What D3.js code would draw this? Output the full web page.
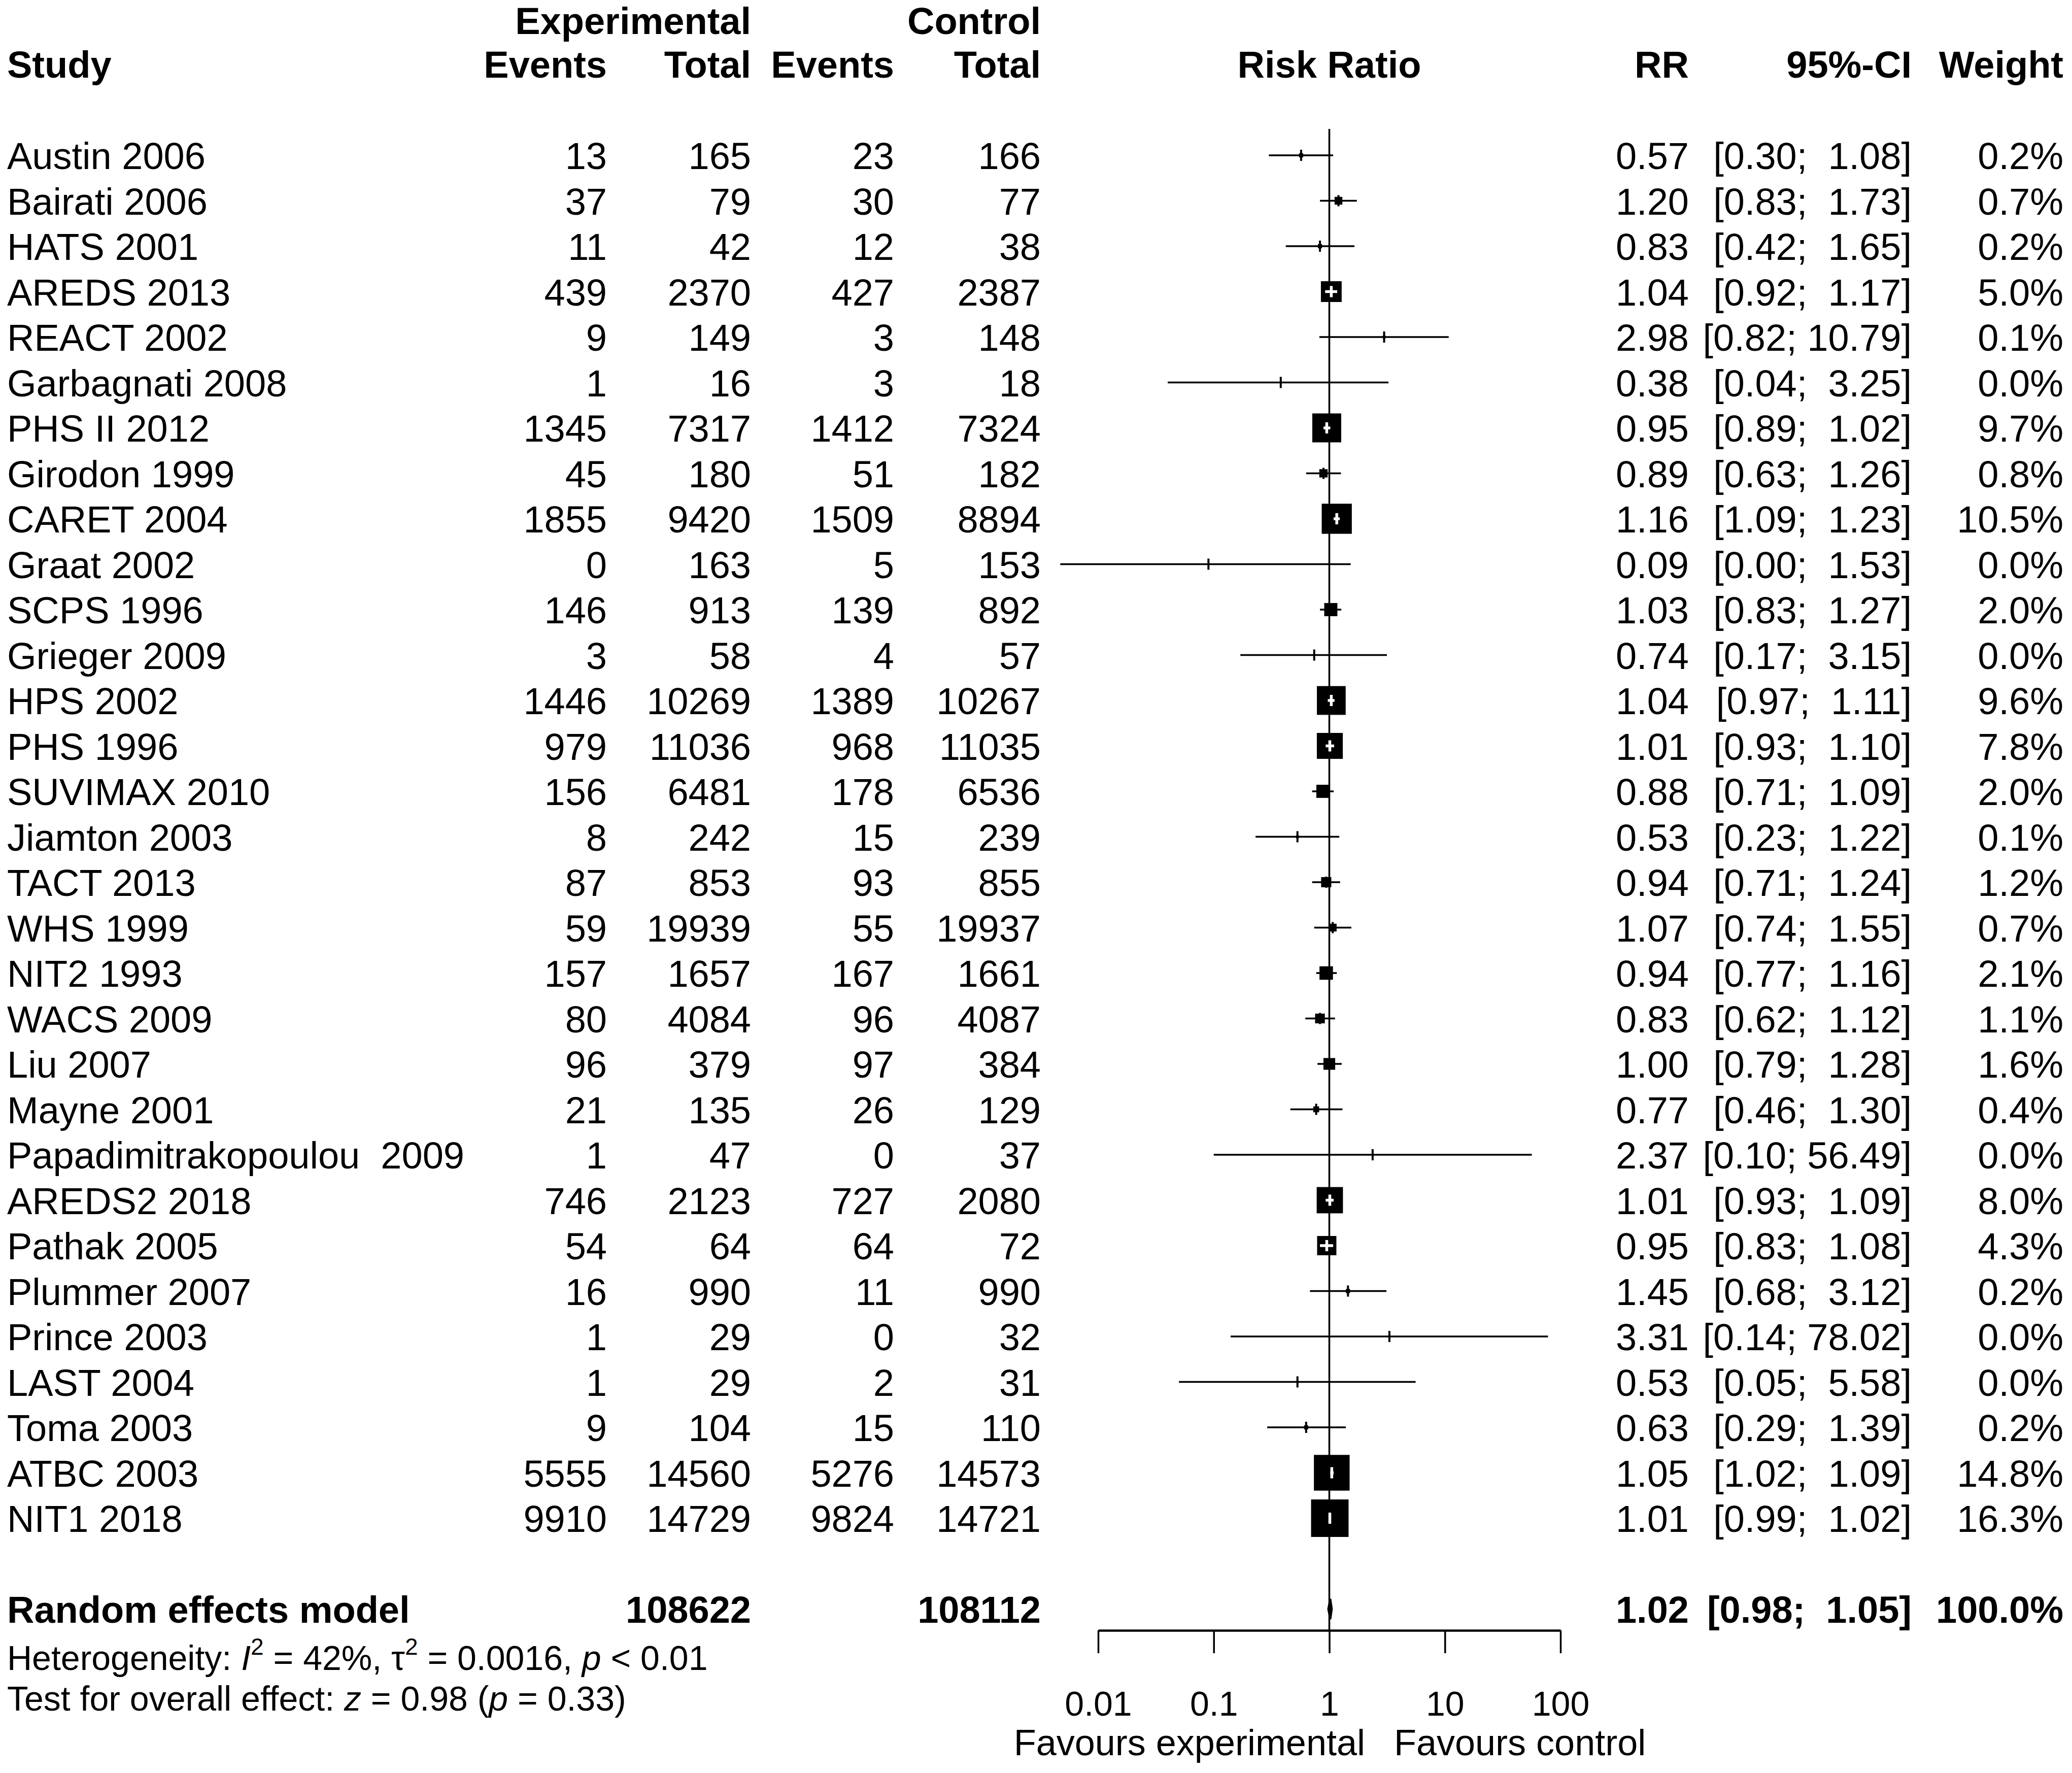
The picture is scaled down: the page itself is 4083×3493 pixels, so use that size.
<!DOCTYPE html>
<html>
<head>
<meta charset="utf-8">
<script src="https://cdn.jsdelivr.net/npm/d3@7"></script>
<style>
  html, body { margin: 0; padding: 0; background: #fff; }
  svg text { font-family: "Liberation Sans", Arial, Helvetica, sans-serif; white-space: pre; fill: #000; }
</style>
</head>
<body>
<svg id="chart" width="4083" height="3493" xmlns="http://www.w3.org/2000/svg" xml:space="preserve"></svg>
<script>
// ---------------- DATA ----------------
const studies = ["Austin 2006", "Bairati 2006", "HATS 2001", "AREDS 2013", "REACT 2002", "Garbagnati 2008",
  "PHS II 2012", "Girodon 1999", "CARET 2004", "Graat 2002", "SCPS 1996", "Grieger 2009", "HPS 2002",
  "PHS 1996", "SUVIMAX 2010", "Jiamton 2003", "TACT 2013", "WHS 1999", "NIT2 1993", "WACS 2009",
  "Liu 2007", "Mayne 2001", "Papadimitrakopoulou  2009", "AREDS2 2018", "Pathak 2005", "Plummer 2007",
  "Prince 2003", "LAST 2004", "Toma 2003", "ATBC 2003", "NIT1 2018"];
const expEvents = [13, 37, 11, 439, 9, 1, 1345, 45, 1855, 0, 146, 3, 1446, 979, 156, 8, 87, 59, 157, 80, 96, 21, 1, 746, 54, 16, 1, 1, 9, 5555, 9910];
const expTotal = [165, 79, 42, 2370, 149, 16, 7317, 180, 9420, 163, 913, 58, 10269, 11036, 6481, 242, 853, 19939, 1657, 4084, 379, 135, 47, 2123, 64, 990, 29, 29, 104, 14560, 14729];
const ctrlEvents = [23, 30, 12, 427, 3, 3, 1412, 51, 1509, 5, 139, 4, 1389, 968, 178, 15, 93, 55, 167, 96, 97, 26, 0, 727, 64, 11, 0, 2, 15, 5276, 9824];
const ctrlTotal = [166, 77, 38, 2387, 148, 18, 7324, 182, 8894, 153, 892, 57, 10267, 11035, 6536, 239, 855, 19937, 1661, 4087, 384, 129, 37, 2080, 72, 990, 32, 31, 110, 14573, 14721];
const rr = [0.57, 1.20, 0.83, 1.04, 2.98, 0.38, 0.95, 0.89, 1.16, 0.09, 1.03, 0.74, 1.04, 1.01, 0.88, 0.53, 0.94, 1.07, 0.94, 0.83, 1.00, 0.77, 2.37, 1.01, 0.95, 1.45, 3.31, 0.53, 0.63, 1.05, 1.01];
const lower = [0.30, 0.83, 0.42, 0.92, 0.82, 0.04, 0.89, 0.63, 1.09, 0.0047, 0.83, 0.17, 0.97, 0.93, 0.71, 0.23, 0.71, 0.74, 0.77, 0.62, 0.79, 0.46, 0.10, 0.93, 0.83, 0.68, 0.14, 0.05, 0.29, 1.02, 0.99];
const upper = [1.08, 1.73, 1.65, 1.17, 10.79, 3.25, 1.02, 1.26, 1.23, 1.53, 1.27, 3.15, 1.11, 1.10, 1.09, 1.22, 1.24, 1.55, 1.16, 1.12, 1.28, 1.30, 56.49, 1.09, 1.08, 3.12, 78.02, 5.58, 1.39, 1.09, 1.02];
const weights = [0.2, 0.7, 0.2, 5.0, 0.1, 0.0, 9.7, 0.8, 10.5, 0.0, 2.0, 0.0, 9.6, 7.8, 2.0, 0.1, 1.2, 0.7, 2.1, 1.1, 1.6, 0.4, 0.0, 8.0, 4.3, 0.2, 0.0, 0.0, 0.2, 14.8, 16.3];

const pooledLabel = "Random effects model";
const pooledTotals = [108622, 108112];
const pooledEstimate = [1.02, 0.98, 1.05];   // RR, lower, upper
const pooledWeight = "100.0%";

const axisTicks = [0.01, 0.1, 1, 10, 100];
const axisTickLabels = ["0.01", "0.1", "1", "10", "100"];
const favourLabels = ["Favours experimental", "Favours control"];

// ---------------- LAYOUT ----------------
const svg = d3.select("#chart");
const FS = 74, FS_SMALL = 68;
const rowStep = 89.5;
const firstBaseline = 333;
const centerOffset = 27;

const x = d3.scaleLog().domain([0.01, 100]).range([2164, 3075]);
const yBase = d3.scalePoint().domain(studies).range([firstBaseline, firstBaseline + rowStep * (studies.length - 1)]);
const pooledBaseline = yBase(studies[studies.length - 1]) + 2 * rowStep;
const axisY = 3212;

const col = { study: 14, expEv: 1196, expTot: 1480, ctlEv: 1762, ctlTot: 2051, rr: 3328, ci: 3767, w: 4066 };

function txt(g, xx, yy, s, anchor, weight, size) {
  return g.append("text").attr("x", xx).attr("y", yy).attr("text-anchor", anchor || "start")
    .attr("font-size", size || FS).attr("font-weight", weight || "normal").text(s);
}
const fmtCI = (lo, up) => "[" + lo.toFixed(2) + "; " + up.toFixed(2).padStart(5, " ") + "]";

// ---------------- HEADER ----------------
const head = svg.append("g");
txt(head, col.expTot, 67, "Experimental", "end", "bold");
txt(head, col.ctlTot, 67, "Control", "end", "bold");
txt(head, col.study, 153, "Study", "start", "bold");
txt(head, col.expEv, 153, "Events", "end", "bold");
txt(head, col.expTot, 153, "Total", "end", "bold");
txt(head, col.ctlEv, 153, "Events", "end", "bold");
txt(head, col.ctlTot, 153, "Total", "end", "bold");
txt(head, x(1), 153, "Risk Ratio", "middle", "bold");
txt(head, col.rr, 153, "RR", "end", "bold");
txt(head, col.ci, 153, "95%-CI", "end", "bold");
txt(head, col.w, 153, "Weight", "end", "bold");

// ---------------- TABLE ROWS ----------------
const rows = svg.append("g");
studies.forEach((s, i) => {
  const yb = yBase(s);
  txt(rows, col.study, yb, s, "start");
  txt(rows, col.expEv, yb, String(expEvents[i]), "end");
  txt(rows, col.expTot, yb, String(expTotal[i]), "end");
  txt(rows, col.ctlEv, yb, String(ctrlEvents[i]), "end");
  txt(rows, col.ctlTot, yb, String(ctrlTotal[i]), "end");
  txt(rows, col.rr, yb, rr[i].toFixed(2), "end");
  txt(rows, col.ci, yb, fmtCI(lower[i], upper[i]), "end");
  txt(rows, col.w, yb, weights[i].toFixed(1) + "%", "end");
});

// pooled row
txt(rows, col.study, pooledBaseline, pooledLabel, "start", "bold");
txt(rows, col.expTot, pooledBaseline, String(pooledTotals[0]), "end", "bold");
txt(rows, col.ctlTot, pooledBaseline, String(pooledTotals[1]), "end", "bold");
txt(rows, col.rr, pooledBaseline, pooledEstimate[0].toFixed(2), "end", "bold");
txt(rows, col.ci, pooledBaseline, fmtCI(pooledEstimate[1], pooledEstimate[2]), "end", "bold");
txt(rows, col.w, pooledBaseline, pooledWeight, "end", "bold");

// heterogeneity & test lines
const het = svg.append("text").attr("x", col.study).attr("y", pooledBaseline + 93).attr("font-size", FS_SMALL);
het.append("tspan").text("Heterogeneity: ");
het.append("tspan").attr("font-style", "italic").text("I");
het.append("tspan").attr("font-size", 46).attr("dy", -30).text("2");
het.append("tspan").attr("dy", 30).text(" = 42%, τ");
het.append("tspan").attr("font-size", 46).attr("dy", -30).text("2");
het.append("tspan").attr("dy", 30).text(" = 0.0016, ");
het.append("tspan").attr("font-style", "italic").text("p");
het.append("tspan").text(" < 0.01");

const tst = svg.append("text").attr("x", col.study).attr("y", pooledBaseline + 173).attr("font-size", FS_SMALL);
tst.append("tspan").text("Test for overall effect: ");
tst.append("tspan").attr("font-style", "italic").text("z");
tst.append("tspan").text(" = 0.98 (");
tst.append("tspan").attr("font-style", "italic").text("p");
tst.append("tspan").text(" = 0.33)");

// ---------------- PLOT ----------------
const plot = svg.append("g");
const LW = 3.5;
const boxK = 18.3;
const tickH = 22;

// reference line at 1
plot.append("line")
  .attr("x1", x(1)).attr("x2", x(1))
  .attr("y1", yBase(studies[0]) - centerOffset - 52).attr("y2", axisY)
  .attr("stroke", "#000").attr("stroke-width", LW);

studies.forEach((s, i) => {
  const yc = yBase(s) - centerOffset;
  const xl = x(lower[i]), xu = x(upper[i]), xe = x(rr[i]);
  const side = boxK * Math.sqrt(weights[i]);
  // CI line
  plot.append("line").attr("x1", xl).attr("x2", xu).attr("y1", yc).attr("y2", yc)
    .attr("stroke", "#000").attr("stroke-width", LW);
  // box
  if (side > 0) {
    plot.append("rect").attr("x", xe - side / 2).attr("y", yc - side / 2)
      .attr("width", side).attr("height", side).attr("fill", "#000");
  }
  const inside = (xl > xe - side / 2) && (xu < xe + side / 2);
  const c = inside ? "#fff" : "#000";
  if (inside) {
    plot.append("line").attr("x1", xl).attr("x2", xu).attr("y1", yc).attr("y2", yc)
      .attr("stroke", c).attr("stroke-width", 5.5);
  }
  // estimate tick
  plot.append("line").attr("x1", xe).attr("x2", xe).attr("y1", yc - tickH / 2).attr("y2", yc + tickH / 2)
    .attr("stroke", c).attr("stroke-width", inside ? 5.5 : LW + 0.5);
});

// pooled diamond
{
  const yc = pooledBaseline - centerOffset;
  const hh = 20;
  const pts = [[x(pooledEstimate[1]), yc], [x(pooledEstimate[0]), yc - hh], [x(pooledEstimate[2]), yc], [x(pooledEstimate[0]), yc + hh]];
  plot.append("path").attr("d", d3.line()(pts) + "Z").attr("fill", "#000").attr("stroke", "#000").attr("stroke-width", 4);
}

// axis
const axis = d3.axisBottom(x).tickValues(axisTicks)
  .tickFormat((d, i) => axisTickLabels[i]).tickSize(45).tickSizeOuter(0).tickPadding(75);
const ag = svg.append("g").attr("transform", `translate(0,${axisY})`).call(axis);
ag.select(".domain").attr("stroke", "#000").attr("stroke-width", 4.5);
ag.selectAll(".tick line").attr("stroke", "#000").attr("stroke-width", LW);
ag.selectAll(".tick text").attr("font-size", FS_SMALL).attr("fill", "#000")
  .attr("font-family", '"Liberation Sans", Arial, sans-serif');

// favours labels
txt(svg, 2690, 3458, favourLabels[0], "end", "normal", 72);
txt(svg, 2747, 3458, favourLabels[1], "start", "normal", 72);
</script>
</body>
</html>
